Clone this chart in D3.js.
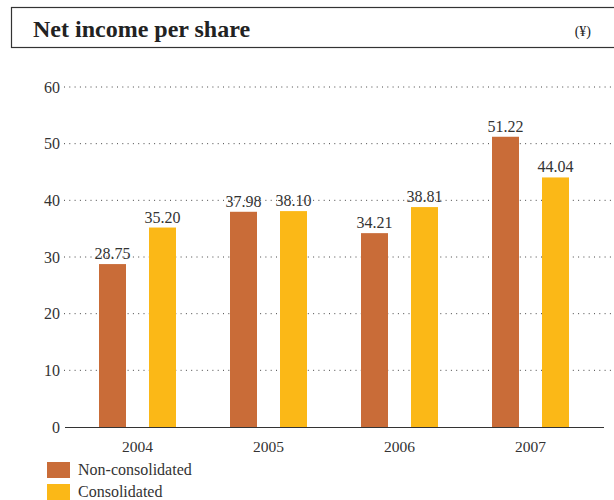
<!DOCTYPE html>
<html>
<head>
<meta charset="utf-8">
<script src="https://cdn.jsdelivr.net/npm/d3@7"></script>
<style>
  body { margin: 0; background: #fff; }
  svg { display: block; font-family: "Liberation Serif", "Times New Roman", serif; }
</style>
</head>
<body>
<svg id="chart" width="614" height="500"></svg>
<script>
// Net income per share, in yen
const years = ["2004", "2005", "2006", "2007"];
const series = ["Non-consolidated", "Consolidated"];
const nonConsolidated = [28.75, 37.98, 34.21, 51.22];
const consolidated = [35.20, 38.10, 38.81, 44.04];
const yTicks = [0, 10, 20, 30, 40, 50, 60];
const colors = ["#C96C38", "#FBB817"];

const rows = years.map((y, i) => ({ year: y, values: [nonConsolidated[i], consolidated[i]] }));

const svg = d3.select("#chart");

// Title box
svg.append("rect")
  .attr("x", 11.5).attr("y", 7.5)
  .attr("width", 620).attr("height", 40)
  .attr("fill", "none").attr("stroke", "#333").attr("stroke-width", 1.2);
svg.append("text")
  .attr("x", 33).attr("y", 37)
  .attr("font-size", 24).attr("font-weight", "bold").attr("fill", "#222")
  .text("Net income per share");
svg.append("text")
  .attr("x", 591).attr("y", 36)
  .attr("text-anchor", "end")
  .attr("font-size", 14).attr("fill", "#222")
  .text("(¥)");

// Scales
const y = d3.scaleLinear().domain([0, 60]).range([427, 87]);
const x0 = d3.scaleBand().domain(years).range([72, 596]).padding(0);
const x1 = d3.scaleBand().domain(series).range([27, 104]).paddingInner(0.46).paddingOuter(0);

// Dotted gridlines
svg.append("g").selectAll("line")
  .data(yTicks.filter(d => d > 0))
  .join("line")
  .attr("x1", 64).attr("x2", 614)
  .attr("y1", d => y(d)).attr("y2", d => y(d))
  .attr("stroke", "#444").attr("stroke-width", 1)
  .attr("stroke-dasharray", "1,4.3");

// Y axis labels
const yAxis = d3.axisLeft(y).tickValues(yTicks).tickSize(0).tickPadding(0).tickFormat(d3.format("d"));
const gy = svg.append("g").attr("transform", "translate(60,0)").call(yAxis);
gy.select(".domain").remove();
gy.selectAll("text")
  .attr("font-family", "Liberation Serif, serif")
  .attr("font-size", 16).attr("fill", "#333");

// Bars
const groups = svg.append("g").selectAll("g")
  .data(rows)
  .join("g")
  .attr("transform", d => `translate(${x0(d.year)},0)`);

groups.selectAll("rect")
  .data(d => d.values.map((v, i) => ({ key: series[i], value: v, i })))
  .join("rect")
  .attr("x", d => x1(d.key))
  .attr("y", d => y(d.value))
  .attr("width", x1.bandwidth())
  .attr("height", d => y(0) - y(d.value))
  .attr("fill", d => colors[d.i]);

groups.selectAll("text.val")
  .data(d => d.values.map((v, i) => ({ key: series[i], value: v, i })))
  .join("text")
  .attr("class", "val")
  .attr("x", d => x1(d.key) + x1.bandwidth() / 2)
  .attr("y", d => y(d.value) - 5)
  .attr("text-anchor", "middle")
  .attr("font-size", 16).attr("fill", "#333")
  .text(d => d.value.toFixed(2));

// X axis baseline and year labels
const xAxis = d3.axisBottom(x0).tickSize(0).tickPadding(0);
const gx = svg.append("g").attr("transform", `translate(0,${y(0)})`).call(xAxis);
gx.select(".domain").remove();
gx.selectAll("text")
  .attr("dy", 0).attr("y", 25)
  .attr("font-family", "Liberation Serif, serif")
  .attr("font-size", 15.5).attr("fill", "#333");
svg.append("line")
  .attr("x1", 65).attr("x2", 604)
  .attr("y1", y(0) + 0.5).attr("y2", y(0) + 0.5)
  .attr("stroke", "#333").attr("stroke-width", 1.2);

// Legend
const legend = svg.append("g").selectAll("g")
  .data(series)
  .join("g")
  .attr("transform", (d, i) => `translate(47,${462 + i * 22})`);
legend.append("rect")
  .attr("width", 23).attr("height", 16)
  .attr("fill", (d, i) => colors[i]);
legend.append("text")
  .attr("x", 31).attr("y", 13)
  .attr("font-size", 16).attr("fill", "#333")
  .text(d => d);
</script>
</body>
</html>
